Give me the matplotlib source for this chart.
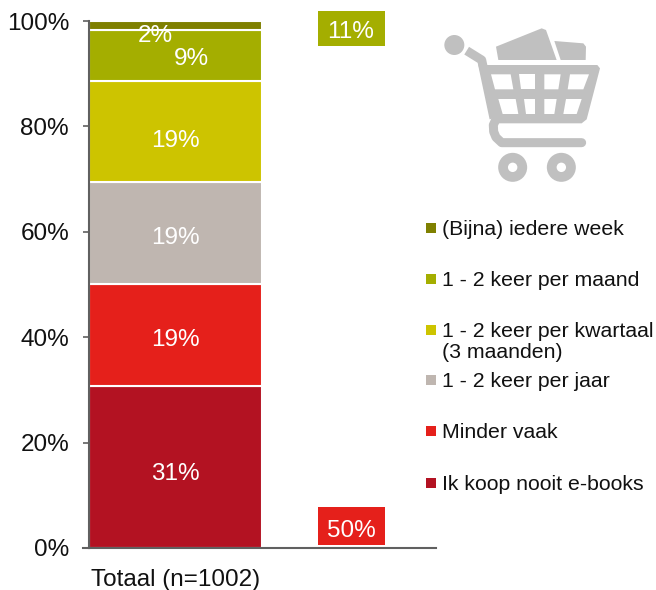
import matplotlib
matplotlib.use("Agg")
import matplotlib.pyplot as plt
from matplotlib.patches import Polygon, Circle, Rectangle

plt.rcParams["font.family"] = ["Liberation Sans", "DejaVu Sans"]

W, H = 656, 590

category = "Totaal (n=1002)"
series = ["Ik koop nooit e-books", "Minder vaak", "1 - 2 keer per jaar",
          "1 - 2 keer per kwartaal\n(3 maanden)", "1 - 2 keer per maand", "(Bijna) iedere week"]
values = [30.7, 19.4, 19.3, 19.3, 9.5, 1.8]
labels = ["31%", "19%", "19%", "19%", "9%", "2%"]
colors = ["#b31222", "#e5201b", "#bfb6b0", "#cdc400", "#a4ae00", "#7f8000"]
callout_text = ["11%", "50%"]
callout_colors = ["#a4ae00", "#e5201b"]
yticks = [0, 20, 40, 60, 80, 100]

# label offsets as placed in the original slide
label_dx = [0, 0, 0, 0, 0.09, -0.115]
label_dy = [-1.3, -0.9, -1.0, -1.8, -0.7, -1.9]
legend_y = [228, 279, 330, 380, 431, 483]
callout_box = [(11, 46), (507, 545)]
callout_text_y = [32, 531]

FS = 17.5

fig = plt.figure(figsize=(W / 100, H / 100), dpi=100)
ax = fig.add_axes([89 / W, 1 - 548 / H, 347 / W, 527 / H])

bottom = 0
for v, c in zip(values, colors):
    ax.bar(0, v, bottom=bottom, width=0.995, color=c, edgecolor="white", linewidth=1.5, zorder=2)
    bottom += v

bottom = 0
for v, lab, dx, dy in zip(values, labels, label_dx, label_dy):
    ax.text(dx, bottom + v / 2 + dy, lab, color="white", fontsize=FS, ha="center", va="center", zorder=4)
    bottom += v

ax.set_xlim(-0.5, 1.5)
ax.set_ylim(0, 100)
ax.set_xticks([0])
ax.set_xticklabels([category])
ax.set_yticks(yticks)
ax.set_yticklabels([f"{t}%" for t in yticks])
ax.tick_params(axis="y", length=6 * 0.72, width=1.2, color="#606060", labelsize=FS, pad=10, labelcolor="#111111")
ax.tick_params(axis="x", length=0, labelsize=FS, pad=15, labelcolor="#111111")
ax.spines["top"].set_visible(False)
ax.spines["right"].set_visible(False)
for s in ["left", "bottom"]:
    ax.spines[s].set_color("#606060")
    ax.spines[s].set_linewidth(1.5)
ax.plot([-0.535, -0.5], [0, 0], color="#606060", lw=1.5, clip_on=False)

# overlay in pixel coordinates for callouts, legend and cart icon
ov = fig.add_axes([0, 0, 1, 1])
ov.set_xlim(0, W)
ov.set_ylim(H, 0)
ov.axis("off")
ov.patch.set_alpha(0)

for txt, c, (y0, y1), ty in zip(callout_text, callout_colors, callout_box, callout_text_y):
    ov.add_patch(Rectangle((318, y0), 67, y1 - y0, facecolor=c, edgecolor="none"))
    ov.text(351, ty, txt, color="white", fontsize=FS, ha="center", va="center")

for name, c, y in zip(series[::-1], colors[::-1], legend_y):
    ov.add_patch(Rectangle((426, y - 5), 10, 10, facecolor=c, edgecolor="none"))
    ov.text(442, y - 8, name, fontsize=15.3, ha="left", va="top", color="#111111", linespacing=1.15)


def pts(coords):
    return [(420 + a / 3, 10 + b / 3) for a, b in coords]


grey = "#c0c0c0"
ov.add_patch(Circle(pts([(103, 105)])[0], 10, color=grey, lw=0))
ov.plot(*zip(*pts([(140, 122), (185, 150), (222, 325)])), color=grey, lw=6.5, solid_capstyle="butt", solid_joinstyle="round")
ov.add_patch(Polygon(pts([(175, 165), (532, 165), (540, 175), (500, 328), (485, 340), (222, 340)]), color=grey, lw=0))
for w in [[(213, 193), (272, 193), (280, 238), (225, 238)],
          [(297, 193), (345, 193), (345, 238), (303, 238)],
          [(373, 193), (422, 193), (415, 238), (373, 238)],
          [(450, 193), (507, 193), (490, 238), (443, 238)],
          [(235, 267), (287, 267), (295, 312), (248, 312)],
          [(312, 267), (345, 267), (345, 312), (318, 312)],
          [(373, 267), (410, 267), (403, 312), (373, 312)],
          [(438, 267), (485, 267), (470, 312), (430, 312)]]:
    ov.add_patch(Polygon(pts(w), color="white", lw=0))
ov.plot(*zip(*pts([(226, 332), (220, 345), (221, 365), (228, 382), (245, 398), (485, 398)])),
        color=grey, lw=6.5, solid_capstyle="round", solid_joinstyle="round")
for cx in [278, 424]:
    c = pts([(cx, 472)])[0]
    ov.add_patch(Circle(c, 14.5, color=grey, lw=0))
    ov.add_patch(Circle(c, 4.7, color="white", lw=0))
ov.add_patch(Polygon(pts([(228, 110), (365, 55), (378, 60), (410, 150), (235, 150)]), color=grey, lw=0))
ov.add_patch(Polygon(pts([(403, 93), (490, 100), (498, 110), (497, 150), (422, 150)]), color=grey, lw=0))

fig.savefig("out.png", dpi=100)
